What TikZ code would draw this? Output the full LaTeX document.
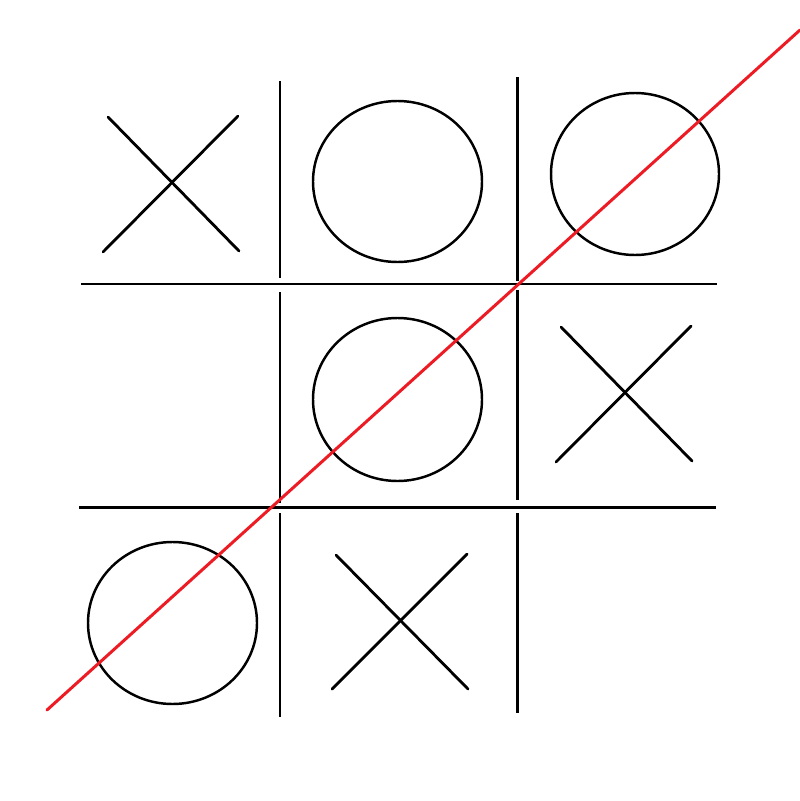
\documentclass[tikz,border=0pt]{standalone}
\definecolor{winred}{HTML}{ED1C24}

\begin{document}
\begin{tikzpicture}[
    x=0.02cm, y=-0.02cm,
    grid/.style={line width=1.7pt, black},
    cross/.style={line width=1.6pt, line cap=round},
    ring/.style={line width=1.4pt},
    win/.style={line width=1.7pt, winred, line cap=round}
  ]
  \useasboundingbox (0,0) rectangle (800,801);

  % Board lines
  \draw[grid] (280,81) -- (280,278);
  \draw[grid] (280,292) -- (280,503);
  \draw[grid] (280,513) -- (280,717);
  \draw[grid] (517,77) -- (517,281);
  \draw[grid] (517,290) -- (517,500);
  \draw[grid] (517,513) -- (517,713);
  \draw[grid] (81,284) -- (717,284);
  \draw[grid] (79,507) -- (716,507);

  % Crosses
  \draw[cross] (108,117) -- (239,251);
  \draw[cross] (238,116) -- (103,252);
  \draw[cross] (561,327) -- (692,461);
  \draw[cross] (691,326) -- (556,462);
  \draw[cross] (336,555) -- (468,689);
  \draw[cross] (467,554) -- (332,689);

  % Noughts
  \draw[ring] (397.5,181.5) ellipse [x radius=84.5, y radius=80.5];
  \draw[ring] (635,174) ellipse [x radius=84, y radius=81];
  \draw[ring] (397.5,399.5) ellipse [x radius=84.5, y radius=81.5];
  \draw[ring] (172.5,623) ellipse [x radius=84.5, y radius=81];

  % Winning line
  \draw[win] (47,710) -- (800,30);
\end{tikzpicture}
\end{document}
